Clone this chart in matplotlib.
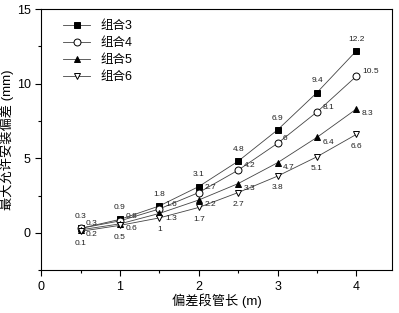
import numpy as np
import matplotlib
matplotlib.use("Agg")
from matplotlib import pyplot as plt

plt.rcParams["font.family"] = ["Liberation Sans", "Noto Sans CJK SC", "DejaVu Sans"]

x = [0.5, 1, 1.5, 2, 2.5, 3, 3.5, 4]
g3 = [0.3, 0.9, 1.8, 3.1, 4.8, 6.9, 9.4, 12.2]
g4 = [0.3, 0.8, 1.6, 2.7, 4.2, 6, 8.1, 10.5]
g5 = [0.2, 0.6, 1.3, 2.2, 3.3, 4.7, 6.4, 8.3]
g6 = [0.1, 0.5, 1, 1.7, 2.7, 3.8, 5.1, 6.6]
names = ["组合3", "组合4", "组合5", "组合6"]

fig = plt.figure(figsize=(3.99, 3.13), dpi=100)
ax = fig.add_axes([0.103, 0.137, 0.879, 0.834])

styles = [("s", "black"), ("o", "white"), ("^", "black"), ("v", "white")]
# label offsets in points: above, upper right, lower right, below
offs = [((0, 6), "center", "bottom"), ((4, 1), "left", "bottom"),
        ((4, -1), "left", "top"), ((0, -6), "center", "top")]
for ys, name, (m, fc), (off, ha, va) in zip([g3, g4, g5, g6], names, styles, offs):
    ax.plot(x, ys, color="#444444", lw=0.6, marker=m, ms=5, mfc=fc,
            mec="black", mew=0.7, label=name)
    for xi, yi in zip(x, ys):
        ax.annotate(f"{yi:g}", (xi, yi), xytext=off, textcoords="offset points",
                    ha=ha, va=va, fontsize=6, color="#222222")

ax.set_xlim(0, 4.45)
ax.set_ylim(-2.5, 15)
ax.set_xticks([0, 1, 2, 3, 4])
ax.set_xticks(np.arange(0.5, 4.5, 1), minor=True)
ax.set_yticks([0, 5, 10, 15])
ax.set_yticks([-2.5, 2.5, 7.5, 12.5], minor=True)
ax.tick_params(direction="out", length=4, width=0.8, labelsize=9, top=False, right=False)
ax.tick_params(which="minor", direction="out", length=2, width=0.8)
for s in ax.spines.values():
    s.set_linewidth(0.8)

ax.set_xlabel("偏差段管长 (m)", fontsize=9.5, labelpad=1)
ax.set_ylabel("最大允许安装偏差 (mm)", fontsize=9.5, labelpad=2)
ax.legend(loc="upper left", frameon=False, fontsize=9, handlelength=2.2,
          labelspacing=0.4, borderaxespad=0.5, bbox_to_anchor=(0.03, 1.0))

plt.savefig("out.png", dpi=100)
